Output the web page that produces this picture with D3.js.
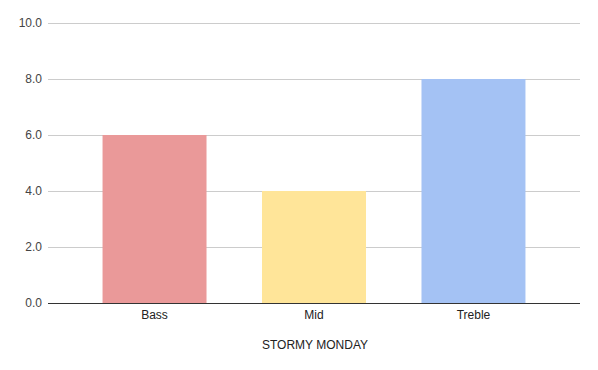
<!DOCTYPE html>
<html><head><meta charset="utf-8">
<script src="https://cdn.jsdelivr.net/npm/d3@7"></script>
<style>body{margin:0;background:#fff}svg{display:block}</style>
</head><body>
<script>
const categories = ["Bass", "Mid", "Treble"];
const values = [6, 4, 8];
const colors = ["#ea9999", "#ffe599", "#a4c2f4"];
const yTicks = [0, 2, 4, 6, 8, 10];
const xTitle = "STORMY MONDAY";

const W = 598, H = 370;
const m = {left: 48, right: 18, top: 23, bottom: 67};
const svg = d3.select("body").append("svg").attr("width", W).attr("height", H);
const x = d3.scaleBand().domain(categories).range([m.left, W - m.right]).paddingInner(0.348).paddingOuter(0.342);
const y = d3.scaleLinear().domain([0, 10]).range([H - m.bottom, m.top]);

const font = "Arial, 'Liberation Sans', sans-serif";
// grid
svg.append("g").selectAll("line").data(yTicks.filter(d => d !== 0)).join("line")
  .attr("x1", m.left).attr("x2", W - m.right)
  .attr("y1", d => Math.round(y(d)) + 0.5).attr("y2", d => Math.round(y(d)) + 0.5)
  .attr("stroke", "#cccccc").attr("stroke-width", 1);
// y labels
svg.append("g").selectAll("text").data(yTicks).join("text")
  .attr("x", m.left - 6).attr("y", d => y(d)).attr("dy", "0.35em")
  .attr("text-anchor", "end").attr("font-family", font).attr("font-size", 12).attr("fill", "#444")
  .text(d => d.toFixed(1));
// bars
svg.append("g").selectAll("rect").data(values).join("rect")
  .attr("x", (d, i) => x(categories[i])).attr("width", x.bandwidth())
  .attr("y", d => y(d)).attr("height", d => y(0) - y(d))
  .attr("fill", (d, i) => colors[i]);
// baseline
svg.append("line").attr("x1", m.left).attr("x2", W - m.right)
  .attr("y1", Math.round(y(0)) + 0.5).attr("y2", Math.round(y(0)) + 0.5)
  .attr("stroke", "#333").attr("stroke-width", 1);
// x labels
svg.append("g").selectAll("text").data(categories).join("text")
  .attr("x", d => x(d) + x.bandwidth() / 2).attr("y", y(0) + 12).attr("dy", "0.35em")
  .attr("text-anchor", "middle").attr("font-family", font).attr("font-size", 12).attr("fill", "#222")
  .text(d => d);
// x title
svg.append("text").attr("x", (m.left + W - m.right) / 2 + 1).attr("y", 345).attr("dy", "0.35em")
  .attr("text-anchor", "middle").attr("font-family", font).attr("font-size", 12).attr("fill", "#222")
  .text(xTitle);
</script>
</body></html>
